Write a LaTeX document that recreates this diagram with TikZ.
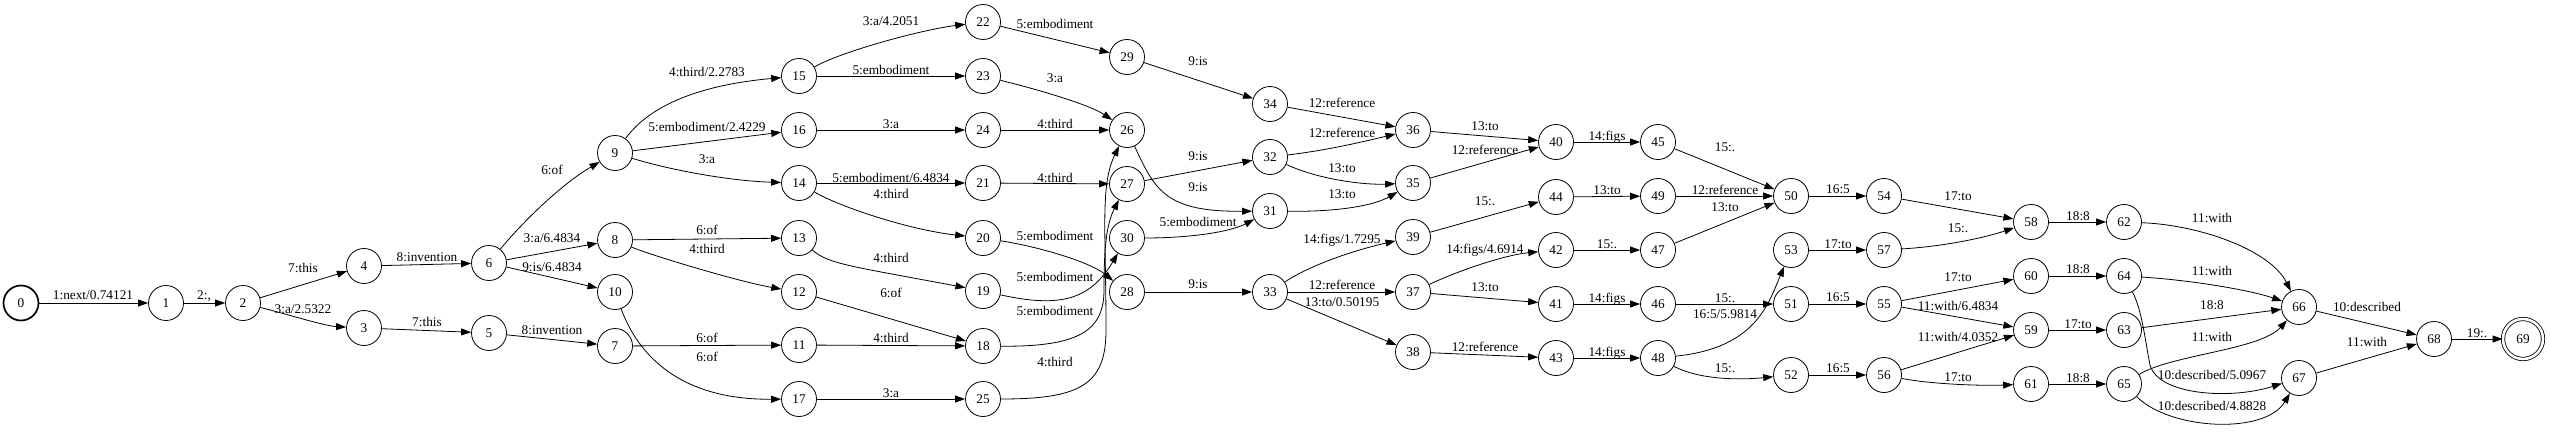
\documentclass[tikz,border=0pt]{standalone}
\usepackage{fontspec}
\setmainfont{Liberation Serif}
\usetikzlibrary{arrows.meta}
\begin{document}
\begin{tikzpicture}[x=1pt,y=-1pt,
  fsm/.style={circle,draw,minimum size=35pt,inner sep=0pt,line width=0.8pt,font=\fontsize{13.3}{15}\selectfont},
  initst/.style={line width=1.7pt},
  finalst/.style={minimum size=40pt,double,double distance=2.6pt,line width=0.8pt},
  elab/.style={inner sep=0pt,text height=8.6pt,text depth=0pt,font=\fontsize{13.3}{15}\selectfont},
  arr/.style={-{Triangle[length=10pt,width=7pt]},line width=0.8pt}]
\useasboundingbox (0,0) rectangle (2550,431);
% states
\node[fsm,initst] (n0) at (21,303) {0};
\node[fsm] (n1) at (166,303) {1};
\node[fsm] (n2) at (243,303) {2};
\node[fsm] (n3) at (364,328) {3};
\node[fsm] (n4) at (364,266) {4};
\node[fsm] (n5) at (489,333) {5};
\node[fsm] (n6) at (489,263) {6};
\node[fsm] (n7) at (615,346) {7};
\node[fsm] (n8) at (615,240) {8};
\node[fsm] (n9) at (615,153) {9};
\node[fsm] (n10) at (615,292) {10};
\node[fsm] (n11) at (799,345) {11};
\node[fsm] (n12) at (799,292) {12};
\node[fsm] (n13) at (799,238) {13};
\node[fsm] (n14) at (799,183) {14};
\node[fsm] (n15) at (799,76) {15};
\node[fsm] (n16) at (799,130) {16};
\node[fsm] (n17) at (799,399) {17};
\node[fsm] (n18) at (983,346) {18};
\node[fsm] (n19) at (983,291) {19};
\node[fsm] (n20) at (983,238) {20};
\node[fsm] (n21) at (983,183) {21};
\node[fsm] (n22) at (983,22) {22};
\node[fsm] (n23) at (983,76) {23};
\node[fsm] (n24) at (983,130) {24};
\node[fsm] (n25) at (983,399) {25};
\node[fsm] (n26) at (1127,130) {26};
\node[fsm] (n27) at (1127,184) {27};
\node[fsm] (n28) at (1127,292) {28};
\node[fsm] (n29) at (1127,57) {29};
\node[fsm] (n30) at (1127,238) {30};
\node[fsm] (n31) at (1270,211) {31};
\node[fsm] (n32) at (1270,157) {32};
\node[fsm] (n33) at (1270,292) {33};
\node[fsm] (n34) at (1270,104) {34};
\node[fsm] (n35) at (1413,183) {35};
\node[fsm] (n36) at (1413,130) {36};
\node[fsm] (n37) at (1413,292) {37};
\node[fsm] (n38) at (1413,352) {38};
\node[fsm] (n39) at (1413,237) {39};
\node[fsm] (n40) at (1556,142) {40};
\node[fsm] (n41) at (1556,304) {41};
\node[fsm] (n42) at (1556,250) {42};
\node[fsm] (n43) at (1556,358) {43};
\node[fsm] (n44) at (1556,197) {44};
\node[fsm] (n45) at (1658,142) {45};
\node[fsm] (n46) at (1658,304) {46};
\node[fsm] (n47) at (1658,250) {47};
\node[fsm] (n48) at (1658,358) {48};
\node[fsm] (n49) at (1658,196) {49};
\node[fsm] (n50) at (1791,196) {50};
\node[fsm] (n51) at (1791,304) {51};
\node[fsm] (n52) at (1791,375) {52};
\node[fsm] (n53) at (1791,250) {53};
\node[fsm] (n54) at (1884,196) {54};
\node[fsm] (n55) at (1884,304) {55};
\node[fsm] (n56) at (1884,375) {56};
\node[fsm] (n57) at (1884,250) {57};
\node[fsm] (n58) at (2031,222) {58};
\node[fsm] (n59) at (2031,330) {59};
\node[fsm] (n60) at (2031,276) {60};
\node[fsm] (n61) at (2031,384) {61};
\node[fsm] (n62) at (2124,222) {62};
\node[fsm] (n63) at (2124,330) {63};
\node[fsm] (n64) at (2124,276) {64};
\node[fsm] (n65) at (2124,384) {65};
\node[fsm] (n66) at (2299,307) {66};
\node[fsm] (n67) at (2299,378) {67};
\node[fsm] (n68) at (2434,339) {68};
\node[fsm,finalst] (n69) at (2523,339) {69};
% edges
\draw[arr] (n0) -- (n1);
\draw[arr] (n1) -- (n2);
\draw[arr] (n2) -- (n4);
\draw[arr] (n2) .. controls (290,315) and (325,326) .. (n3);
\draw[arr] (n4) -- (n6);
\draw[arr] (n3) -- (n5);
\draw[arr] (n5) -- (n7);
\draw[arr] (n6) .. controls (520,225) and (560,185) .. (n9);
\draw[arr] (n6) -- (n8);
\draw[arr] (n6) -- (n10);
\draw[arr] (n9) .. controls (650,105) and (700,85) .. (n15);
\draw[arr] (n9) -- (n16);
\draw[arr] (n9) .. controls (670,170) and (730,181) .. (n14);
\draw[arr] (n8) -- (n13);
\draw[arr] (n8) .. controls (650,255) and (740,282) .. (n12);
\draw[arr] (n7) -- (n11);
\draw[arr] (n10) .. controls (638,355) and (680,400) .. (n17);
\draw[arr] (n15) .. controls (840,52) and (920,30) .. (n22);
\draw[arr] (n15) -- (n23);
\draw[arr] (n16) -- (n24);
\draw[arr] (n14) -- (n21);
\draw[arr] (n14) .. controls (840,207) and (910,230) .. (n20);
\draw[arr] (n13) .. controls (828,264) and (850,266) .. (n19);
\draw[arr] (n12) -- (n18);
\draw[arr] (n11) -- (n18);
\draw[arr] (n17) -- (n25);
\draw[arr] (n22) -- (n29);
\draw[arr] (n23) .. controls (1040,90) and (1090,105) .. (n26);
\draw[arr] (n24) -- (n26);
\draw[arr] (n21) -- (n27);
\draw[arr] (n20) .. controls (1040,247) and (1090,262) .. (n28);
\draw[arr] (n19) .. controls (1060,308) and (1090,300) .. (n30);
\draw[arr] (n18) .. controls (1080,347) and (1104,330) .. (1104,290) .. controls (1104,250) and (1106,225) .. (n27);
\draw[arr] (n25) .. controls (1080,399) and (1106,385) .. (1106,330) .. controls (1106,230) and (1100,185) .. (n26);
\draw[arr] (n29) -- (n34);
\draw[arr] (n27) -- (n32);
\draw[arr] (n26) .. controls (1155,190) and (1165,212) .. (n31);
\draw[arr] (n30) .. controls (1190,238) and (1230,232) .. (n31);
\draw[arr] (n28) -- (n33);
\draw[arr] (n34) -- (n36);
\draw[arr] (n32) .. controls (1330,150) and (1370,140) .. (n36);
\draw[arr] (n32) .. controls (1320,180) and (1365,185) .. (n35);
\draw[arr] (n31) .. controls (1340,212) and (1375,205) .. (n35);
\draw[arr] (n33) .. controls (1310,265) and (1355,250) .. (n39);
\draw[arr] (n33) -- (n37);
\draw[arr] (n33) -- (n38);
\draw[arr] (n36) -- (n40);
\draw[arr] (n35) -- (n40);
\draw[arr] (n39) -- (n44);
\draw[arr] (n37) .. controls (1460,270) and (1505,255) .. (n42);
\draw[arr] (n37) -- (n41);
\draw[arr] (n38) -- (n43);
\draw[arr] (n40) -- (n45);
\draw[arr] (n44) -- (n49);
\draw[arr] (n42) -- (n47);
\draw[arr] (n41) -- (n46);
\draw[arr] (n43) -- (n48);
\draw[arr] (n45) -- (n50);
\draw[arr] (n49) -- (n50);
\draw[arr] (n47) -- (n50);
\draw[arr] (n46) -- (n51);
\draw[arr] (n48) .. controls (1755,348) and (1768,305) .. (n53);
\draw[arr] (n48) .. controls (1700,380) and (1740,380) .. (n52);
\draw[arr] (n50) -- (n54);
\draw[arr] (n53) -- (n57);
\draw[arr] (n51) -- (n55);
\draw[arr] (n52) -- (n56);
\draw[arr] (n54) -- (n58);
\draw[arr] (n57) .. controls (1950,246) and (1990,236) .. (n58);
\draw[arr] (n55) -- (n60);
\draw[arr] (n55) -- (n59);
\draw[arr] (n56) -- (n59);
\draw[arr] (n56) .. controls (1930,384) and (1980,386) .. (n61);
\draw[arr] (n58) -- (n62);
\draw[arr] (n60) -- (n64);
\draw[arr] (n59) -- (n63);
\draw[arr] (n61) -- (n65);
\draw[arr] (n62) .. controls (2200,225) and (2270,250) .. (n66);
\draw[arr] (n64) .. controls (2190,280) and (2250,290) .. (n66);
\draw[arr] (n63) -- (n66);
\draw[arr] (n65) .. controls (2170,355) and (2260,350) .. (n66);
\draw[arr] (n64) .. controls (2142,310) and (2145,340) .. (2150,365) .. controls (2158,395) and (2230,400) .. (n67);
\draw[arr] (n65) .. controls (2170,430) and (2265,435) .. (n67);
\draw[arr] (n66) -- (n68);
\draw[arr] (n67) -- (n68);
\draw[arr] (n68) -- (n69);
% labels
\node[elab] (l1) at (93,295) {1:next/0.74121};
\node[elab] (l2) at (204,295) {2:,};
\node[elab] (l3) at (303,268) {7:this};
\node[elab] (l4) at (303,309) {3:a/2.5322};
\node[elab] (l5) at (427,257) {8:invention};
\node[elab] (l6) at (427,322) {7:this};
\node[elab] (l7) at (552,330) {8:invention};
\node[elab] (l8) at (552,170) {6:of};
\node[elab] (l9) at (552,238) {3:a/6.4834};
\node[elab] (l10) at (552,267) {9:is/6.4834};
\node[elab] (l11) at (707,72) {4:third/2.2783};
\node[elab] (l12) at (707,127) {5:embodiment/2.4229};
\node[elab] (l13) at (707,159) {3:a};
\node[elab] (l14) at (707,230) {6:of};
\node[elab] (l15) at (707,249) {4:third};
\node[elab] (l16) at (707,338) {6:of};
\node[elab] (l17) at (707,357) {6:of};
\node[elab] (l18) at (891,21) {3:a/4.2051};
\node[elab] (l19) at (891,70) {5:embodiment};
\node[elab] (l20) at (891,124) {3:a};
\node[elab] (l21) at (891,178) {5:embodiment/6.4834};
\node[elab] (l22) at (891,194) {4:third};
\node[elab] (l23) at (891,258) {4:third};
\node[elab] (l24) at (891,293) {6:of};
\node[elab] (l25) at (891,338) {4:third};
\node[elab] (l26) at (891,393) {3:a};
\node[elab] (l27) at (1055,24) {5:embodiment};
\node[elab] (l28) at (1055,78) {3:a};
\node[elab] (l29) at (1055,124) {4:third};
\node[elab] (l30) at (1055,178) {4:third};
\node[elab] (l31) at (1055,236) {5:embodiment};
\node[elab] (l32) at (1055,277) {5:embodiment};
\node[elab] (l33) at (1055,311) {5:embodiment};
\node[elab] (l34) at (1055,362) {4:third};
\node[elab] (l35) at (1198,61) {9:is};
\node[elab] (l36) at (1198,156) {9:is};
\node[elab] (l37) at (1198,187) {9:is};
\node[elab] (l38) at (1198,222) {5:embodiment};
\node[elab] (l39) at (1198,284) {9:is};
\node[elab] (l40) at (1342,103) {12:reference};
\node[elab] (l41) at (1342,133) {12:reference};
\node[elab] (l42) at (1342,168) {13:to};
\node[elab] (l43) at (1342,194) {13:to};
\node[elab] (l44) at (1342,239) {14:figs/1.7295};
\node[elab] (l45) at (1342,285) {12:reference};
\node[elab] (l46) at (1342,302) {13:to/0.50195};
\node[elab] (l47) at (1485,126) {13:to};
\node[elab] (l48) at (1485,150) {12:reference};
\node[elab] (l49) at (1485,201) {15:.};
\node[elab] (l50) at (1485,249) {14:figs/4.6914};
\node[elab] (l51) at (1485,287) {13:to};
\node[elab] (l52) at (1485,347) {12:reference};
\node[elab] (l53) at (1607,136) {14:figs};
\node[elab] (l54) at (1607,190) {13:to};
\node[elab] (l55) at (1607,244) {15:.};
\node[elab] (l56) at (1607,298) {14:figs};
\node[elab] (l57) at (1607,352) {14:figs};
\node[elab] (l58) at (1725,147) {15:.};
\node[elab] (l59) at (1725,190) {12:reference};
\node[elab] (l60) at (1725,207) {13:to};
\node[elab] (l61) at (1725,298) {15:.};
\node[elab] (l62) at (1725,314) {16:5/5.9814};
\node[elab] (l63) at (1725,368) {15:.};
\node[elab] (l64) at (1838,189) {16:5};
\node[elab] (l65) at (1838,244) {17:to};
\node[elab] (l66) at (1838,297) {16:5};
\node[elab] (l67) at (1838,368) {16:5};
\node[elab] (l68) at (1958,196) {17:to};
\node[elab] (l69) at (1958,228) {15:.};
\node[elab] (l70) at (1958,277) {17:to};
\node[elab] (l71) at (1958,306) {11:with/6.4834};
\node[elab] (l72) at (1958,337) {11:with/4.0352};
\node[elab] (l73) at (1958,377) {17:to};
\node[elab] (l74) at (2078,216) {18:8};
\node[elab] (l75) at (2078,269) {18:8};
\node[elab] (l76) at (2078,324) {17:to};
\node[elab] (l77) at (2078,378) {18:8};
\node[elab] (l78) at (2212,218) {11:with};
\node[elab] (l79) at (2212,271) {11:with};
\node[elab] (l80) at (2212,305) {18:8};
\node[elab] (l81) at (2212,337) {11:with};
\node[elab] (l82) at (2212,375) {10:described/5.0967};
\node[elab] (l83) at (2212,406) {10:described/4.8828};
\node[elab] (l84) at (2367,307) {10:described};
\node[elab] (l85) at (2367,342) {11:with};
\node[elab] (l86) at (2477,333) {19:.};
\end{tikzpicture}
\end{document}
